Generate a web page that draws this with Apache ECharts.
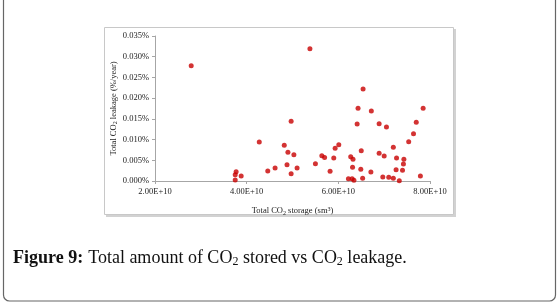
<!DOCTYPE html>
<html>
<head>
<meta charset="utf-8">
<script src="https://cdn.jsdelivr.net/npm/echarts@6/dist/echarts.min.js"></script>
<style>
html,body{margin:0;padding:0;background:#fff;}
#c{width:559px;height:307px;}
</style>
</head>
<body>
<div id="c"></div>
<script>
// Total CO2 storage (sm3)
var storage = [2.79e10,5.38e10,6.54e10,6.43e10,6.72e10,7.85e10,4.97e10,6.41e10,6.89e10,7.05e10,
  7.70e10,7.64e10,7.535e10,4.82e10,4.90e10,5.03e10,4.88e10,5.10e10,4.97e10,5.50e10,
  5.64e10,5.70e10,5.93e10,6.01e10,5.90e10,5.82e10,6.27e10,6.32e10,6.50e10,6.31e10,
  6.49e10,6.22e10,6.30e10,6.34e10,6.53e10,6.71e10,6.89e10,7.00e10,7.20e10,7.27e10,
  7.43e10,7.42e10,7.26e10,7.40e10,6.97e10,7.10e10,7.20e10,7.33e10,7.79e10,4.275e10,
  4.46e10,4.62e10,3.77e10,3.75e10,3.88e10,3.75e10];
// Total CO2 leakage (%/year)
var leakage = [0.0278,0.0319,0.0222,0.01755,0.0169,0.01755,0.0144,0.01376,0.01383,0.01303,
  0.01417,0.01142,0.00949,0.00862,0.00692,0.00636,0.00394,0.00314,0.00177,0.00418,
  0.0061,0.0057,0.0079,0.00877,0.00555,0.00233,0.00588,0.00523,0.00732,0.0033,
  0.00282,0.00056,0.00056,0.0002,0.00065,0.00217,0.00668,0.00603,0.00813,0.00555,
  0.00523,0.0041,0.00273,0.00258,0.00097,0.00089,0.00065,0.00007,0.0012,0.00941,
  0.00241,0.00314,0.00225,0.00153,0.00121,0.00024];
var xTicks = [2e10, 4e10, 6e10, 8e10];
var yTicks = [0, 0.005, 0.01, 0.015, 0.02, 0.025, 0.03, 0.035];

var points = storage.map(function(s, i){ return [s, leakage[i]]; });
var serif = '"Liberation Serif", "DejaVu Serif", serif';
var axisCol = '#a6a6a6';

var chart = echarts.init(document.getElementById('c'));
chart.setOption({
  animation: false,
  backgroundColor: '#fff',
  title: {
    left: 8, top: 243,
    text: '{b|Figure 9:} {n|Total amount of CO}{s|2}{n| stored vs CO}{s|2}{n| leakage.}',
    textStyle: {
      fontWeight: 'normal',
      rich: {
        b: {fontFamily: serif, fontSize: 18, fontWeight: 'bold', color: '#111'},
        n: {fontFamily: serif, fontSize: 18, fontWeight: 'normal', color: '#111'},
        s: {fontFamily: serif, fontSize: 12, fontWeight: 'normal', color: '#111', padding: [8, 0, 0, 0]}
      }
    }
  },
  graphic: [
    {type: 'rect', shape: {x: 3.5, y: -10, width: 552, height: 311, r: 6},
     style: {fill: 'none', stroke: '#666', lineWidth: 1.2}, silent: true, z: -10},
    {type: 'rect', shape: {x: 106, y: 29, width: 350, height: 188},
     style: {fill: '#d2d2d2'}, silent: true, z: -9},
    {type: 'rect', shape: {x: 104.5, y: 27.5, width: 349, height: 187},
     style: {fill: '#fff', stroke: '#c8c8c8', lineWidth: 1}, silent: true, z: -8}
  ],
  grid: {left: 155, right: 129, top: 36, bottom: 126},
  xAxis: {
    type: 'value', min: xTicks[0], max: xTicks[xTicks.length - 1], interval: 2e10,
    splitLine: {show: false},
    axisLine: {show: true, lineStyle: {color: axisCol, width: 1}},
    axisTick: {show: true, length: 3, lineStyle: {color: axisCol}},
    axisLabel: {
      margin: 6, fontFamily: serif, fontSize: 8.5, color: '#222',
      formatter: function(v){ return v.toExponential(2).toUpperCase(); }
    },
    name: '{n|Total CO}{s|2}{n| storage (sm}{p|3}{n|)}',
    nameLocation: 'middle', nameGap: 25,
    nameTextStyle: {
      rich: {
        n: {fontFamily: serif, fontSize: 8.5, color: '#222'},
        s: {fontFamily: serif, fontSize: 6, color: '#222', padding: [4, 0, 0, 0]},
        p: {fontFamily: serif, fontSize: 6, color: '#222', padding: [0, 0, 4, 0]}
      }
    }
  },
  yAxis: {
    type: 'value', min: yTicks[0], max: yTicks[yTicks.length - 1], interval: 0.005,
    splitLine: {show: false},
    axisLine: {show: true, lineStyle: {color: axisCol, width: 1}},
    axisTick: {show: true, length: 3, lineStyle: {color: axisCol}},
    axisLabel: {
      margin: 6, fontFamily: serif, fontSize: 8.5, color: '#222',
      formatter: function(v){ return v.toFixed(3) + '%'; }
    },
    name: '{n|Total CO}{s|2}{n| leakage (%/year)}',
    nameLocation: 'middle', nameGap: 36, nameRotate: 90,
    nameTextStyle: {
      rich: {
        n: {fontFamily: serif, fontSize: 8.5, color: '#222'},
        s: {fontFamily: serif, fontSize: 6, color: '#222', padding: [4, 0, 0, 0]}
      }
    }
  },
  series: [{
    type: 'scatter',
    data: points,
    symbol: 'circle',
    symbolSize: 5,
    itemStyle: {color: '#c80000'}
  }]
});
</script>
</body>
</html>
